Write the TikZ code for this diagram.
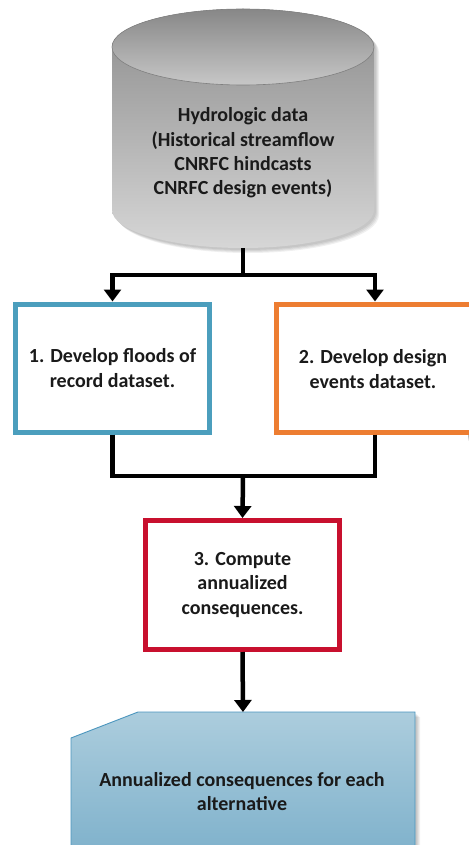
\documentclass[tikz,border=0pt]{standalone}
\usepackage{fontspec}
\setmainfont{Carlito}
\usetikzlibrary{arrows.meta,backgrounds}
\definecolor{boxblue}{RGB}{75,158,189}
\definecolor{boxorange}{RGB}{237,125,49}
\definecolor{boxred}{RGB}{200,16,46}
\definecolor{cardtop}{RGB}{172,205,221}
\definecolor{cardbot}{RGB}{128,178,204}
\definecolor{cardline}{RGB}{75,150,190}
\definecolor{txt}{RGB}{26,26,26}
\begin{document}
\begin{tikzpicture}[x=1pt,y=1pt,
  lbl/.style={font=\fontsize{20pt}{24.4pt}\selectfont\bfseries, text=txt, align=center},
  stepbox/.style={lbl, draw, fill=white, line width=5pt, minimum height=128pt, inner sep=0pt},
  conn/.style={line width=4.5pt, line join=miter},
  arr/.style={conn, -{Triangle[width=17pt,length=12pt]}}]
\useasboundingbox (0,0) rectangle (468,-845);
\fill[white] (0,0) rectangle (468,-845);

% cylinder shadow
\foreach \d in {2,3,4,5}{
  \fill[black,opacity=0.06,shift={(\d,-\d)}] (112,-47) -- (112,-210) arc[start angle=180,end angle=360,x radius=131,y radius=38] -- (374,-47) arc[start angle=0,end angle=180,x radius=131,y radius=38] -- cycle;
}
% cylinder body
\shade[shading angle=40, top color=black!45, bottom color=black!16]
  (112,-47) -- (112,-210) arc[start angle=180,end angle=360,x radius=131,y radius=38] -- (374,-47) arc[start angle=0,end angle=180,x radius=131,y radius=38] -- cycle;
% cylinder top
\shade[shading angle=60, top color=black!47, bottom color=black!22]
  (243,-47) ellipse[x radius=131, y radius=38];
\draw[black!50, line width=0.6pt] (243,-47) ellipse[x radius=131, y radius=38];
\coordinate (cylbot) at (243,-248);
\node[lbl] (cyltext) at (243,-153) {Hydrologic data\\(Historical streamflow\\CNRFC hindcasts\\CNRFC design events)};

% boxes
\node[stepbox, draw=boxblue, minimum width=194.5pt] (b1) at (112.5,-368) {1. Develop floods of\\record dataset.};
\node[stepbox, draw=boxorange, minimum width=197pt] (b2) at (375,-368) {};
\node[lbl] (b2text) at (373,-369) {2. Develop design\\events dataset.};
\node[stepbox, draw=boxred, minimum width=194pt, minimum height=129pt] (b3) at (242.5,-585) {3. Compute\\annualized\\consequences.};

\begin{scope}[on background layer]
\foreach \n in {b1,b2,b3}{
  \foreach \d in {2,3,4,5,6}{
    \fill[black,opacity=0.06] ([shift={(\d,-\d)}]\n.south west) rectangle ([shift={(\d,-\d)}]\n.north east);
  }
}
\end{scope}

% output card
\foreach \d in {2,3,4,5}{
  \fill[black,opacity=0.06,shift={(\d,-\d)}] (71,-738) -- (138,-712) -- (415,-712) -- (415,-850) -- (71,-850) -- cycle;
}
\shade[top color=cardtop, bottom color=cardbot] (71,-738) -- (138,-712) -- (415,-712) -- (415,-850) -- (71,-850) -- cycle;
\draw[cardline, line width=0.9pt] (71,-850) -- (71,-738) -- (138,-712) -- (415,-712) -- (415,-850);
\coordinate (cardtop) at (243,-712);
\node[lbl] (cardtext) at (242,-791.5) {Annualized consequences for each\\alternative};

% connectors
\coordinate (split) at (243,-275);
\coordinate (merge) at (243,-476);
\draw[conn] (cylbot) -- (split);
\draw[arr] (split) -| (b1.north);
\draw[arr] (split) -| (b2.north);
\draw[conn] (b1.south) |- (merge);
\draw[conn] (b2.south) |- (merge);
\draw[arr] (merge) -- (b3.north);
\draw[arr] (b3.south) -- (cardtop);
\end{tikzpicture}
\end{document}
